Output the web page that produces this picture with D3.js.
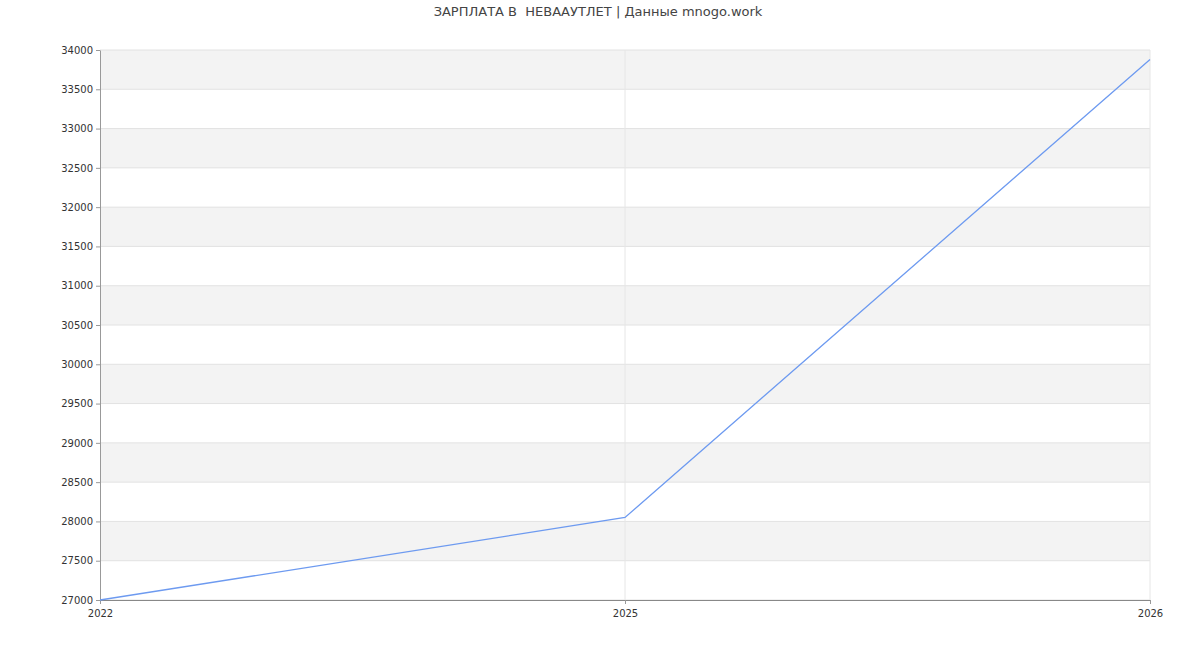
<!DOCTYPE html>
<html><head><meta charset="utf-8">
<script src="https://cdn.jsdelivr.net/npm/d3@7"></script>
<style>body{margin:0;background:#fff;font-family:"DejaVu Sans",sans-serif}</style>
</head><body><svg id="chart"></svg>
<script>
var years = ["2022", "2025", "2026"]
var salaries = [27000, 28050, 33880]
var yTicks = d3.range(27000, 34001, 500)

var screen = {width:1200, height:650}
var margins = {top:50, bottom:50, left:100, right:50}
var graph = {width:screen.width-margins.left-margins.right, height:screen.height-margins.top-margins.bottom}

var svg = d3.select("#chart").attr("width", screen.width).attr("height", screen.height)
var g = svg.append("g").attr("transform","translate("+margins.left+","+margins.top+")")

var xScale = d3.scalePoint().domain(years).range([0, graph.width])
var yScale = d3.scaleLinear().domain([27000, 34000]).range([graph.height, 0])

// bands: gray from 27500-28000, 28500-29000 ... 33500-34000
g.selectAll(".band").data(yTicks.filter(function(t,i){return i%2==1}))
  .enter().append("rect")
  .attr("x",0).attr("width",graph.width)
  .attr("y",function(t){return yScale(t+500)})
  .attr("height",function(t){return yScale(t)-yScale(t+500)})
  .attr("fill","#f3f3f3")

// grid
g.selectAll(".hg").data(yTicks).enter().append("line")
  .attr("x1",0).attr("x2",graph.width)
  .attr("y1",function(t){return yScale(t)}).attr("y2",function(t){return yScale(t)})
  .attr("stroke","#e2e2e2")
g.selectAll(".vg").data(years.slice(1)).enter().append("line")
  .attr("x1",function(d){return xScale(d)}).attr("x2",function(d){return xScale(d)})
  .attr("y1",0).attr("y2",graph.height).attr("stroke","#e6e6e6")

var yAxis = g.append("g").call(d3.axisLeft(yScale).tickValues(yTicks).tickFormat(d3.format("d")).tickSize(4).tickSizeOuter(0))
yAxis.select(".domain").attr("stroke","#999")
yAxis.selectAll(".tick line").attr("stroke","#999")
yAxis.selectAll("text").attr("fill","#333").style("font-size","10px").style("font-family","DejaVu Sans")

var xAxis = g.append("g").attr("transform","translate(0,"+graph.height+")")
  .call(d3.axisBottom(xScale).tickSize(4).tickSizeOuter(0))
xAxis.select(".domain").attr("stroke","#888")
xAxis.selectAll(".tick line").attr("stroke","#999")
xAxis.selectAll("text").attr("fill","#333").style("font-size","10px").style("font-family","DejaVu Sans").attr("dy","1em")

var line = d3.line().x(function(d,i){return xScale(years[i])}).y(function(d){return yScale(d)})
g.append("path").datum(salaries).attr("d",line).attr("fill","none").attr("stroke","#6d9af0").attr("stroke-width",1.3)

svg.append("text").attr("x",598).attr("y",16).attr("text-anchor","middle")
  .attr("fill","#444").style("font-size","13px").style("font-family","DejaVu Sans")
  .text("ЗАРПЛАТА В  НЕВААУТЛЕТ | Данные mnogo.work").attr("xml:space","preserve")
</script></body></html>
